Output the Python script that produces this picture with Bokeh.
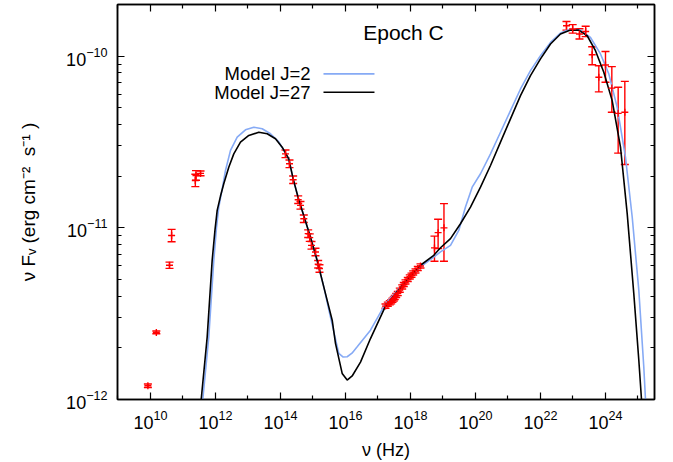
import numpy as np
from bokeh.plotting import figure
from bokeh.models import (FixedTicker, LogAxis, Whisker, TeeHead, Label,
                          ColumnDataSource, Range1d, CustomJSTickFormatter)
from bokeh.embed import file_html
from bokeh.resources import INLINE

# ---------------- data (log10 values) ----------------
# Model curves: log10(nu/Hz), log10(nuFnu / erg cm^-2 s^-1)
model_j27_lognu = [11.50, 11.56, 11.745, 11.898, 11.985, 12.052, 12.154, 12.255, 12.409, 12.563, 12.769,
                   13.025, 13.332, 13.591, 13.846, 14.052, 14.255, 14.39, 14.545, 14.717, 14.923,
                   15.129, 15.332, 15.591, 15.692, 15.898, 16.052, 16.206, 16.462, 16.769, 17.231,
                   17.794, 18.308, 18.717, 18.923, 19.231, 19.538, 19.846, 20.154, 20.462, 20.769,
                   21.077, 21.385, 21.692, 22.0, 22.308, 22.615, 22.923, 23.178, 23.437, 23.692,
                   23.948, 24.206, 24.462, 24.668, 24.871, 25.025, 25.108, 25.15]
model_j27_logf = [-12.25, -12.0, -11.635, -11.189, -11.012, -10.898, -10.815, -10.743, -10.647, -10.569, -10.501,
                  -10.462, -10.443, -10.452, -10.481, -10.530, -10.598, -10.715, -10.825, -10.93, -11.055,
                  -11.19, -11.344, -11.538, -11.673, -11.848, -11.887, -11.863, -11.782, -11.645, -11.456,
                  -11.324, -11.218, -11.160, -11.116, -11.063, -10.976, -10.879, -10.763, -10.637, -10.501,
                  -10.365, -10.230, -10.113, -10.016, -9.929, -9.871, -9.848, -9.848, -9.881, -9.968,
                  -10.094, -10.259, -10.530, -10.917, -11.383, -11.770, -12.0, -12.2]

model_j2_lognu = [11.55, 11.609, 11.794, 11.948, 12.03, 12.102, 12.206, 12.308, 12.462, 12.668, 12.923,
                  13.178, 13.437, 13.692, 13.948, 14.255, 14.39, 14.545, 14.717, 14.923, 15.129,
                  15.332, 15.538, 15.794, 15.92, 16.052, 16.2, 16.36, 16.769, 17.231, 17.794,
                  18.308, 18.717, 18.923, 19.231, 19.486, 19.692, 19.898, 20.154, 20.462, 20.769,
                  21.077, 21.385, 21.692, 22.0, 22.308, 22.615, 22.923, 23.231, 23.538, 23.846,
                  24.102, 24.36, 24.615, 24.822, 25.025, 25.178, 25.231, 25.27]
model_j2_logf = [-12.3, -12.0, -11.635, -11.189, -11.0, -10.879, -10.775, -10.666, -10.549, -10.472, -10.429,
                 -10.414, -10.423, -10.452, -10.499, -10.598, -10.715, -10.825, -10.93, -11.055, -11.19,
                 -11.344, -11.52, -11.731, -11.752, -11.751, -11.73, -11.693, -11.596, -11.441, -11.324,
                 -11.228, -11.170, -11.14, -11.102, -11.015, -10.879, -10.763, -10.685, -10.569, -10.443,
                 -10.317, -10.191, -10.084, -9.997, -9.920, -9.865, -9.842, -9.848, -9.891, -9.987,
                 -10.103, -10.298, -10.588, -10.937, -11.363, -11.809, -12.0, -12.2]

# Observed points
radio_lognu = [9.92, 10.18, 10.585, 10.65, 11.38, 11.40, 11.54]
radio_logf = [-11.92, -11.609, -11.218, -11.045, -10.724, -10.695, -10.683]
radio_err = [0.010, 0.008, 0.018, 0.036, 0.036, 0.028, 0.014]

opt_lognu = [14.154, 14.277, 14.39, 14.545, 14.615, 14.717, 14.852, 14.90, 14.954, 15.077, 15.16, 15.2]
opt_logf = [-10.569, -10.627, -10.72, -10.836, -10.869, -10.947, -11.034, -11.057, -11.102, -11.141, -11.212, -11.237]
opt_err = [0.022] * 12

xray_lognu = [17.231, 17.302, 17.363, 17.406, 17.446, 17.486, 17.517, 17.56, 17.609, 17.671,
              17.745, 17.794, 17.846, 17.917, 17.978, 18.031, 18.083, 18.154, 18.225, 18.308]
xray_logf = [-11.456, -11.445, -11.437, -11.431, -11.422, -11.414, -11.406, -11.394, -11.383, -11.363,
             -11.344, -11.330, -11.315, -11.301, -11.286, -11.276, -11.263, -11.251, -11.237, -11.222]
xray_err = [0.012] * 20

hx_lognu = [18.738, 18.85, 19.03]
hx_logf = [-11.117, -11.028, -11.0]
hx_lo = [-11.195, -11.121, -11.195]
hx_hi = [-11.048, -10.95, -10.859]

gam_lognu = [22.80, 22.99, 23.20, 23.39, 23.59, 23.795, 24.0, 24.195, 24.39, 24.595]
gam_logf = [-9.823, -9.842, -9.871, -9.856, -9.992, -10.123, -10.051, -10.186, -10.333, -10.327]
gam_lo = [-9.848, -9.866, -9.90, -9.886, -10.05, -10.208, -10.152, -10.327, -10.565, -10.631]
gam_hi = [-9.798, -9.816, -9.84, -9.826, -9.945, -10.056, -9.973, -10.061, -10.181, -10.147]

x_tick_exp = [10, 12, 14, 16, 18, 20, 22, 24]
x_minor_exp = [9, 11, 13, 15, 17, 19, 21, 23, 25]
y_tick_exp = [-12, -11, -10]

legend_labels = ["Model J=2", "Model J=27"]
title_text = "Epoch C"

# ---------------- styles ----------------
RED = "#ff0000"
BLUE = "#86aaf5"
FONT = "Liberation Sans"

p = figure(width=673, height=462, x_axis_type="log", y_axis_type="log",
           x_range=Range1d(10 ** 8.985, 10 ** 25.508),
           y_range=Range1d(1e-12, 2e-10),
           output_backend="svg", toolbar_location=None,
           min_border_left=117, min_border_right=19, min_border_top=4, min_border_bottom=62)
p.grid.visible = False
p.outline_line_color = "black"
p.outline_line_width = 1.5
p.background_fill_color = "white"
p.border_fill_color = "white"

xt = FixedTicker(ticks=[10.0 ** e for e in x_tick_exp], minor_ticks=[10.0 ** e for e in x_minor_exp])
yt = FixedTicker(ticks=[10.0 ** e for e in y_tick_exp],
                 minor_ticks=[k * 10.0 ** e for e in y_tick_exp for k in range(2, 10)])

def style_axis(ax):
    ax.major_tick_in = 7
    ax.major_tick_out = 0
    ax.minor_tick_in = 4
    ax.minor_tick_out = 0
    ax.major_tick_line_width = 1.2
    ax.minor_tick_line_width = 1.2
    ax.axis_line_width = 1.5
    ax.axis_line_color = "black"
    ax.major_label_text_font = FONT
    ax.major_label_text_font_size = "18px"
    ax.major_label_text_color = "black"
    ax.axis_label_text_font = FONT
    ax.axis_label_text_font_size = "18px"
    ax.axis_label_text_font_style = "normal"
    ax.axis_label_text_color = "black"

p.xaxis.ticker = xt
p.yaxis.ticker = yt
for ax in p.xaxis + p.yaxis:
    style_axis(ax)
p.xaxis.major_label_standoff = 10
p.xaxis.axis_label = "ν (Hz)"
p.xaxis.axis_label_standoff = 8
p.yaxis.major_label_standoff = 10
p.yaxis.axis_label = "ν F\u1d65\u00a0(erg\u00a0cm\u207b\u00b2\u00a0\u00a0s\u207b\u00b9\u00a0)"
p.yaxis.axis_label_text_font_size = "19px"
p.yaxis.axis_label_standoff = 24

blank = CustomJSTickFormatter(code="return ''")
top_ax = LogAxis(ticker=xt, formatter=blank, major_label_standoff=0)
right_ax = LogAxis(ticker=yt, formatter=blank, major_label_standoff=0)
for ax in (top_ax, right_ax):
    style_axis(ax)
    ax.major_label_text_font_size = "1px"
p.add_layout(top_ax, "above")
p.add_layout(right_ax, "right")

def pw(a):
    return [10.0 ** v for v in a]

# model curves
p.line(pw(model_j2_lognu), pw(model_j2_logf), line_color=BLUE, line_width=1.6)
p.line(pw(model_j27_lognu), pw(model_j27_logf), line_color="black", line_width=1.6)

# data with error bars
def add_points(lognu, logf, lo, hi):
    src = ColumnDataSource(dict(x=pw(lognu), y=pw(logf), lo=pw(lo), hi=pw(hi)))
    w = Whisker(source=src, base="x", upper="hi", lower="lo", dimension="height",
                line_color=RED, line_width=1.4,
                upper_head=TeeHead(size=8, line_color=RED, line_width=1.4),
                lower_head=TeeHead(size=8, line_color=RED, line_width=1.4))
    p.add_layout(w)
    p.scatter("x", "y", source=src, marker="cross", size=7, line_color=RED, line_width=1.4)

for nu, f, e in ((radio_lognu, radio_logf, radio_err),
                 (opt_lognu, opt_logf, opt_err),
                 (xray_lognu, xray_logf, xray_err)):
    add_points(nu, f, [a - b for a, b in zip(f, e)], [a + b for a, b in zip(f, e)])
add_points(hx_lognu, hx_logf, hx_lo, hx_hi)
add_points(gam_lognu, gam_logf, gam_lo, gam_hi)

# title inside the plot
p.add_layout(Label(x=10 ** 17.785, y=10 ** -9.863, text=title_text, text_align="center",
                   text_baseline="middle", text_font=FONT, text_font_size="21px",
                   text_color="black"))

# key (label left of line sample)
key_y = [10 ** -10.103, 10 ** -10.2105]
key_colors = [BLUE, "black"]
for lab, ky, kc in zip(legend_labels, key_y, key_colors):
    p.add_layout(Label(x=10 ** 14.923, y=ky, text=lab, text_align="right", text_baseline="middle",
                       text_font=FONT, text_font_size="18.5px", text_color="black"))
    p.line([10 ** 15.323, 10 ** 16.892], [ky, ky], line_color=kc, line_width=1.6)

open("out.html", "w").write(file_html(p, INLINE))
